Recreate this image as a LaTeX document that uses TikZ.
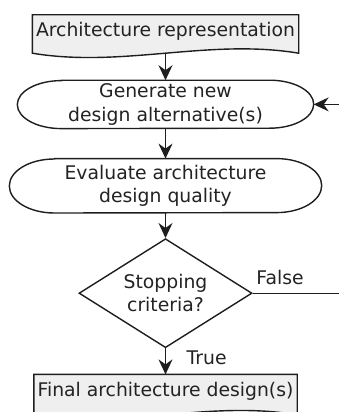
\documentclass[tikz,border=0pt]{standalone}
\usepackage{fontspec}
\setmainfont{DejaVu Sans}
\usepackage{xcolor}
\usepackage{tikz}
\usetikzlibrary{shapes.geometric, arrows.meta, positioning, backgrounds, calc}
\definecolor{linegray}{RGB}{30, 30, 30}
\definecolor{textgray}{RGB}{35, 35, 35}
\definecolor{docgray}{RGB}{239, 239, 239}

% document box with a wavy bottom edge
\newcommand{\docoutline}[1]{%
  \path[docline] (#1.north west) -- (#1.north east) -- ($(#1.south east)+(0,-6)$)
    .. controls +(-90,15) and +(90,-15) .. ($(#1.south west)+(0,-6)$) -- cycle;}
% flat box with elliptic ends
\newcommand{\termoutline}[3]{%
  \path[termline] ($(#1.north west)+(#2,0)$) -- ($(#1.north east)+(-#2,0)$)
    arc[start angle=90, end angle=-90, x radius=#2pt, y radius=#3pt]
    -- ($(#1.south west)+(#2,0)$)
    arc[start angle=270, end angle=90, x radius=#2pt, y radius=#3pt] -- cycle;}

\begin{document}
\begin{tikzpicture}[
    x=1pt, y=1pt,
    font={\fontsize{18.8}{23.5}\selectfont}, text=textgray,
    doc/.style={minimum width=266pt, minimum height=32pt, inner sep=0pt},
    term/.style={inner sep=0pt, align=center},
    decision/.style={diamond, draw=linegray, line width=1.4pt, fill=white, aspect=1.6,
                     inner sep=0pt, minimum width=173pt, minimum height=109pt, align=center},
    docline/.style={draw=linegray, line width=1.4pt, fill=docgray},
    termline/.style={draw=linegray, line width=1.4pt, fill=white},
    flow/.style={draw=linegray, line width=1.4pt, -{Stealth[length=15pt, width=14pt, inset=5pt]}},
    lbl/.style={inner sep=3pt}
]
    \useasboundingbox (0,0) rectangle (339,-412);

    \node[doc] (repr) at (165.5,-31) {Architecture representation};
    \node[term, minimum width=296pt, minimum height=48pt, below=33pt of repr] (gen) {Generate new\\design alternative(s)};
    \node[term, minimum width=312pt, minimum height=54pt, below=30pt of gen] (eval) {Evaluate architecture\\design quality};
    \node[decision, below=25pt of eval] (stop) {Stopping\\criteria?};
    \node[doc, minimum width=263pt, minimum height=34pt, below=26pt of stop] (final) {Final architecture design(s)};
    \coordinate[right=95pt of stop.east] (loopR);

    \begin{scope}[on background layer]
        \docoutline{repr}
        \termoutline{gen}{44}{24}
        \termoutline{eval}{45}{27}
        \docoutline{final}
    \end{scope}

    \draw[flow, shorten <=6pt] (repr) -- (gen);
    \draw[flow] (gen) -- (eval);
    \draw[flow] (eval) -- (stop);
    \draw[flow] (stop) -- node[lbl, anchor=west, xshift=17.5pt, yshift=3.5pt] {True} (final);
    \draw[flow] (stop.east) -- node[lbl, above right, pos=0, yshift=5pt] {False} (loopR) |- (gen.east);
\end{tikzpicture}
\end{document}
